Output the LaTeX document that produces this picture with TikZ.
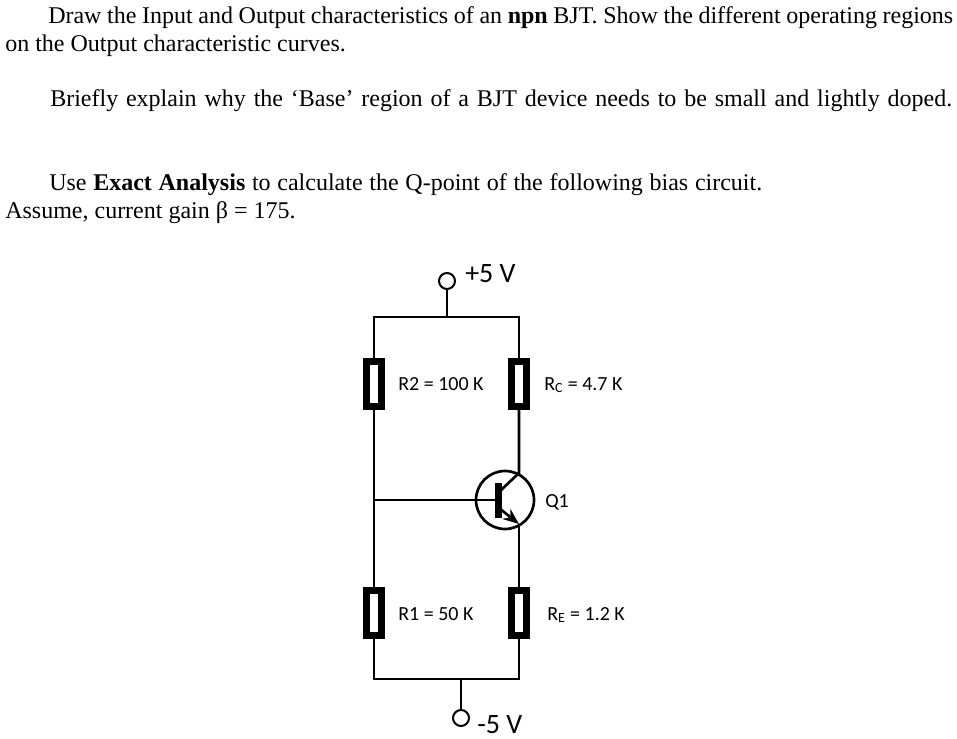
\documentclass[tikz,border=0pt]{standalone}
\usepackage{fontspec}
\setmainfont{Liberation Serif}
\newfontfamily\labfont{Carlito}
\usetikzlibrary{arrows.meta}

\tikzset{
    wire/.style={line width=2pt},
    res/.style={draw,fill=white,line width=5pt,minimum width=11pt,minimum height=33.5pt,inner sep=0pt},
    term/.style={circle,draw,fill=white,line width=1.5pt,minimum size=12pt,inner sep=0pt},
    lab/.style={anchor=base west,inner sep=0pt,font=\labfont\fontsize{15}{17}\selectfont},
    biglab/.style={lab,font=\labfont\fontsize{21}{23}\selectfont},
    txt/.style={anchor=base west,inner sep=0pt,font=\fontsize{18}{21}\selectfont}
}

\begin{document}
\begin{tikzpicture}[x=.75pt,y=-.75pt]
    \useasboundingbox (0,0) rectangle (957,739);

    % Question text
    \node [txt] (t1) at (48,23) {\makebox[678.75pt][s]{Draw the Input and Output characteristics of an \textbf{npn} BJT. Show the different operating regions}};
    \node [txt] (t2) at (5,51) {on the Output characteristic curves.};
    \node [txt] (t3) at (50,106) {\makebox[676.5pt][s]{Briefly explain why the ‘Base’ region of a BJT device needs to be small and lightly doped.}};
    \node [txt] (t4) at (49,190) {\makebox[534.75pt][s]{Use \textbf{Exact Analysis} to calculate the Q-point of the following bias circuit.}};
    \node [txt] (t5) at (5,218) {Assume, current gain β = 175.};

    % Resistors and their labels
    \foreach \nam/\x/\y/\ly/\lx/\lab in {
        rtwo/374/384/390/398/{R2 = 100 K},
        rc/519/384/390/544/{R\textsubscript{C} = 4.7 K},
        rone/374/613/620/398/{R1 = 50 K},
        re/519/613/620/547/{R\textsubscript{E} = 1.2 K}} {
        \node [res] (\nam) at (\x,\y) {};
        \node [lab] (\nam lab) at (\lx,\ly) {\lab};
    }

    % Supply terminals
    \node [term] (vcc) at (447,281) {};
    \node [term] (vee) at (461,718) {};
    \node [biglab] (vcclab) at (465,282) {+5 V};
    \node [biglab] (veelab) at (477,733) {-5 V};

    % Transistor
    \node [circle,draw,line width=2pt,minimum size=43.5pt,inner sep=0pt] (qone) at (505,500) {};
    \node [draw,fill=black,line width=0pt,minimum width=4.5pt,minimum height=25.5pt,inner sep=0pt] (qbar) at (498,500) {};
    \node [lab] (qlab) at (545,507) {Q1};

    \coordinate (toprail) at (447,317);
    \coordinate (botrail) at (461,679);
    \coordinate (jbase) at (374,500);
    \coordinate (coll) at (519,473);
    \coordinate (emit) at (519,524);
    \coordinate (qc) at (499,492);
    \coordinate (qe) at (499,508);

    % Wires
    \draw [wire] (vcc) -- (toprail);
    \draw [wire] (rtwo.north) |- (toprail) -| (rc.north);
    \draw [wire] (rtwo.south) -- (rone.north);
    \draw [wire] (jbase) -- (qbar.west);
    \draw [wire] (rc.south) -- (coll) -- (qc);
    \draw [wire,-{Stealth[length=12pt,width=9.5pt]}] (qe) -- (emit);
    \draw [wire] (emit) -- (re.north);
    \draw [wire] (rone.south) |- (botrail) -| (re.south);
    \draw [wire] (botrail) -- (vee);

\end{tikzpicture}
\end{document}
